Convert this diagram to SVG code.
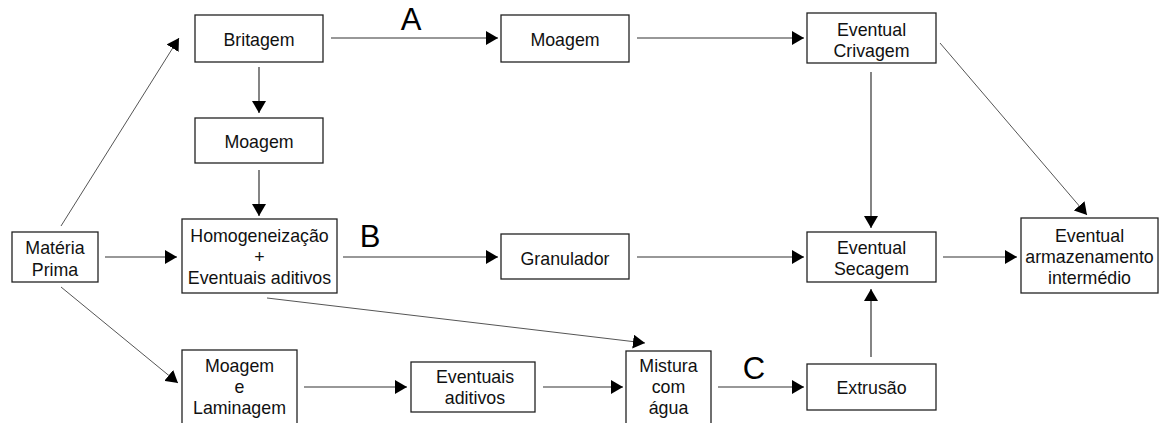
<svg xmlns="http://www.w3.org/2000/svg" width="1159" height="423" viewBox="0 0 1159 423">
<style>
.box{fill:#fff;stroke:#222;stroke-width:1.3}
.t{font-family:"Liberation Sans",Arial,sans-serif;font-size:17.8px;fill:#111;text-anchor:middle}
.lbl{font-family:"Liberation Sans",Arial,sans-serif;font-size:31px;fill:#000;text-anchor:middle}
.c{stroke:#333;stroke-width:1.2;fill:none;marker-end:url(#ah)}
.d{stroke:#555;stroke-width:1}
</style>
<defs>
<marker id="ah" markerUnits="userSpaceOnUse" markerWidth="13" markerHeight="14" refX="12" refY="7" orient="auto">
<path d="M0,0 L12,7 L0,14 z" fill="#000"/>
</marker>
</defs>
<rect width="1159" height="423" fill="#fff"/>
<g id="connectors">
<line class="c d" x1="61" y1="226" x2="179" y2="38"/>
<line class="c" x1="105" y1="257" x2="177" y2="257"/>
<line class="c d" x1="61" y1="287" x2="178" y2="383"/>
<line class="c" x1="259" y1="67" x2="259" y2="113"/>
<line class="c" x1="259" y1="170" x2="259" y2="216"/>
<line class="c" x1="331" y1="38" x2="498" y2="38"/>
<line class="c" x1="637" y1="38" x2="804" y2="38"/>
<line class="c" x1="871" y1="72" x2="871" y2="228"/>
<line class="c d" x1="940" y1="43" x2="1087" y2="215"/>
<line class="c" x1="343" y1="257" x2="498" y2="257"/>
<line class="c" x1="637" y1="257" x2="804" y2="257"/>
<line class="c" x1="943" y1="257" x2="1017" y2="257"/>
<line class="c d" x1="267" y1="298" x2="645" y2="343"/>
<line class="c" x1="304" y1="387" x2="407" y2="387"/>
<line class="c" x1="543" y1="387" x2="623" y2="387"/>
<line class="c" x1="718" y1="387" x2="804" y2="387"/>
<line class="c" x1="871" y1="357" x2="871" y2="289"/>
</g>
<g id="labels">
<text class="lbl" x="411" y="30">A</text>
<text class="lbl" x="370" y="247">B</text>
<text class="lbl" x="754" y="379">C</text>
</g>
<g id="materia-prima">
<rect class="box" x="12" y="232" width="86" height="50"/>
<text class="t" x="55" y="254">Matéria</text>
<text class="t" x="55" y="275.5">Prima</text>
</g>
<g id="britagem">
<rect class="box" x="195" y="15" width="128" height="47"/>
<text class="t" x="259" y="46">Britagem</text>
</g>
<g id="moagem1">
<rect class="box" x="195" y="118" width="128" height="45"/>
<text class="t" x="259" y="148">Moagem</text>
</g>
<g id="homogeneizacao">
<rect class="box" x="182" y="219" width="155" height="74"/>
<text class="t" x="259.5" y="242">Homogeneização</text>
<text class="t" x="259.5" y="263">+</text>
<text class="t" x="259.5" y="284">Eventuais aditivos</text>
</g>
<g id="moagem2">
<rect class="box" x="501" y="15" width="128" height="47"/>
<text class="t" x="565" y="46">Moagem</text>
</g>
<g id="crivagem">
<rect class="box" x="807" y="13" width="129" height="50"/>
<text class="t" x="871.5" y="35.5">Eventual</text>
<text class="t" x="871.5" y="57">Crivagem</text>
</g>
<g id="granulador">
<rect class="box" x="501" y="234" width="128" height="45"/>
<text class="t" x="565" y="265">Granulador</text>
</g>
<g id="secagem">
<rect class="box" x="807" y="232" width="129" height="50"/>
<text class="t" x="871.5" y="253.5">Eventual</text>
<text class="t" x="871.5" y="274.5">Secagem</text>
</g>
<g id="armazenamento">
<rect class="box" x="1021" y="218" width="137" height="75"/>
<text class="t" x="1089.5" y="241.5">Eventual</text>
<text class="t" x="1089.5" y="263">armazenamento</text>
<text class="t" x="1089.5" y="284">intermédio</text>
</g>
<g id="moagem-laminagem">
<rect class="box" x="182" y="350" width="115" height="80"/>
<text class="t" x="239.5" y="371.5">Moagem</text>
<text class="t" x="239.5" y="393">e</text>
<text class="t" x="239.5" y="414">Laminagem</text>
</g>
<g id="eventuais-aditivos">
<rect class="box" x="411" y="362" width="124" height="50"/>
<text class="t" x="475" y="383">Eventuais</text>
<text class="t" x="475" y="404">aditivos</text>
</g>
<g id="mistura">
<rect class="box" x="626" y="351" width="85" height="80"/>
<text class="t" x="668.5" y="371.5">Mistura</text>
<text class="t" x="668.5" y="393">com</text>
<text class="t" x="668.5" y="414">água</text>
</g>
<g id="extrusao">
<rect class="box" x="807" y="364" width="129" height="46"/>
<text class="t" x="871.5" y="394">Extrusão</text>
</g>
</svg>
